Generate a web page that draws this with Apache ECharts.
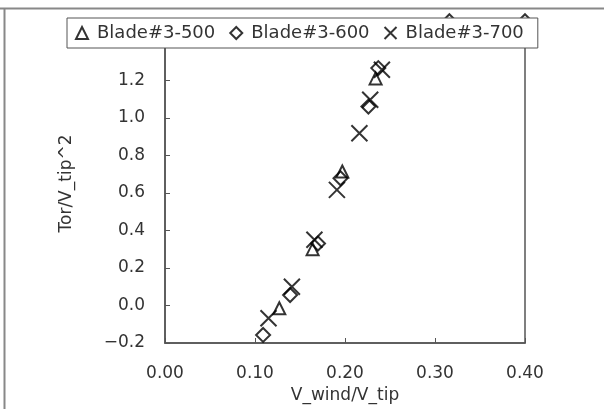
<!DOCTYPE html>
<html>
<head>
<meta charset="utf-8">
<script src="https://cdn.jsdelivr.net/npm/echarts@6/dist/echarts.min.js"></script>
<style>
  html, body { margin: 0; padding: 0; background: #fff; }
  #chart { width: 604px; height: 409px; }
</style>
</head>
<body>
<div id="chart"></div>
<script>
// values
const blade500 = [
  [0.127, -0.015], [0.164, 0.30], [0.197, 0.714], [0.234, 1.21]
];
const blade600 = [
  [0.109, -0.157], [0.139, 0.056], [0.170, 0.33], [0.195, 0.678],
  [0.226, 1.06], [0.237, 1.265], [0.316, 1.515], [0.400, 1.515]
];
const blade700 = [
  [0.115, -0.068], [0.141, 0.10], [0.166, 0.35], [0.191, 0.616],
  [0.216, 0.918], [0.228, 1.096], [0.241, 1.256]
];
const seriesNames = ['Blade#3-500', 'Blade#3-600', 'Blade#3-700'];

const font = 'DejaVu Sans';
const crossPath = 'path://M0,0L10,10M10,0L0,10';

const chart = echarts.init(document.getElementById('chart'));

function markerStyle() {
  return { color: 'rgba(255,255,255,0)', borderColor: '#000', borderWidth: 2 };
}

chart.setOption({
  backgroundColor: '#fff',
  animation: false,
  graphic: [
    { type: 'line', shape: { x1: 0, y1: 8.5, x2: 604, y2: 8.5 }, style: { stroke: '#888', lineWidth: 2 }, z: 10 },
    { type: 'line', shape: { x1: 4.5, y1: 8, x2: 4.5, y2: 409 }, style: { stroke: '#888', lineWidth: 2 }, z: 10 }
  ],
  grid: {
    left: 165, right: 79, top: 24, bottom: 66,
    show: true, borderColor: '#555', borderWidth: 1.5, backgroundColor: 'transparent'
  },
  legend: {
    data: seriesNames,
    left: 67, top: 18,
    padding: [6, 14, 6, 8],
    itemGap: 14,
    itemWidth: 12, itemHeight: 12,
    backgroundColor: '#fff',
    borderColor: '#555', borderWidth: 1,
    textStyle: { fontFamily: font, fontSize: 18, color: '#333', padding: [0, 0, 0, 4] },
    zlevel: 1
  },
  xAxis: {
    type: 'value',
    min: 0, max: 0.4, interval: 0.1,
    name: 'V_wind/V_tip',
    nameLocation: 'middle',
    nameGap: 39,
    nameTextStyle: { fontFamily: font, fontSize: 17, color: '#333' },
    axisLine: { show: true, onZero: false, lineStyle: { color: '#555', width: 1.5 } },
    axisTick: { show: true, inside: true, length: 5, lineStyle: { color: '#555' } },
    axisLabel: {
      fontFamily: font, fontSize: 17, color: '#333', margin: 22,
      formatter: v => v.toFixed(2)
    },
    splitLine: { show: false }
  },
  yAxis: {
    type: 'value',
    min: -0.2, max: 1.5, interval: 0.2,
    name: 'Tor/V_tip^2',
    nameLocation: 'middle',
    nameGap: 90,
    nameTextStyle: { fontFamily: font, fontSize: 17, color: '#333' },
    axisLine: { show: true, onZero: false, lineStyle: { color: '#555', width: 1.5 } },
    axisTick: { show: true, inside: true, length: 5, lineStyle: { color: '#555' } },
    axisLabel: {
      fontFamily: font, fontSize: 17, color: '#333', margin: 20,
      showMaxLabel: false,
      formatter: v => v.toFixed(1).replace('-', '\u2212')
    },
    splitLine: { show: false }
  },
  series: [
    {
      name: seriesNames[0], type: 'scatter', data: blade500, clip: false,
      symbol: 'triangle', symbolSize: 12, itemStyle: markerStyle()
    },
    {
      name: seriesNames[1], type: 'scatter', data: blade600, clip: false,
      symbol: 'diamond', symbolSize: 14, itemStyle: markerStyle()
    },
    {
      name: seriesNames[2], type: 'scatter', data: blade700, clip: false,
      symbol: crossPath, symbolSize: 16, itemStyle: markerStyle()
    }
  ]
});
</script>
</body>
</html>
